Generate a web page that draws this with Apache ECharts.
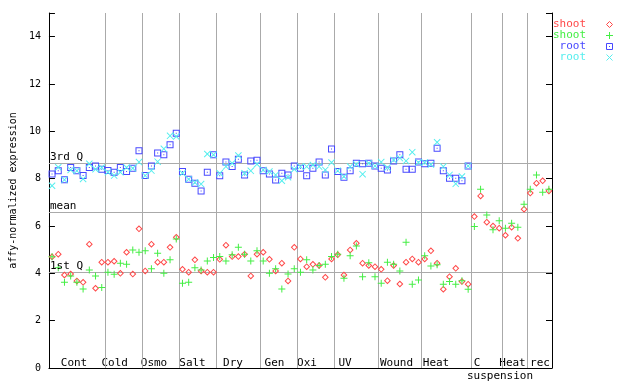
<!DOCTYPE html>
<html><head><meta charset="utf-8">
<script src="https://cdn.jsdelivr.net/npm/echarts@6/dist/echarts.min.js"></script>
<style>html,body{margin:0;padding:0;background:#fff}#c{width:640px;height:384px}</style>
</head><body><div id="c"></div>
<script>
// ---- data ----
const groupNames = ['Cont','Cold','Osmo','Salt','Dry','Gen','Oxi','UV','Wound','Heat','C','Heat','rec'];
const groupSizes = [9,6,6,6,7,6,6,7,7,8,5,4,4];
const shootRep1 = [4.70,4.81,3.93,3.97,3.68,3.62,5.23,3.37,4.47,4.47,4.51,4.00,4.89,3.97,5.88,4.10,5.23,4.47,4.47,5.10,5.52,
  4.17,4.05,4.57,4.10,4.05,4.05,4.59,5.19,4.71,4.71,4.81,3.89,4.81,4.89,4.59,4.10,4.43,3.68,5.10,4.61,
  4.28,4.38,4.33,3.83,4.61,4.78,3.93,4.99,5.27,4.43,4.33,4.28,4.17,3.69,4.33,3.55,4.47,4.61,4.47,4.61,
  4.95,4.43,3.33,3.86,4.21,3.65,3.54,6.40,7.27,6.16,6.00,5.91,5.61,5.95,5.48,6.71,7.39,7.81,7.91,7.48];
const shootRep2 = [4.70,4.24,3.62,3.89,3.62,3.34,4.14,3.89,3.40,4.05,3.96,4.43,4.38,4.99,4.89,4.95,4.19,4.85,4.00,4.57,5.45,
  3.58,3.62,4.24,4.14,4.52,4.67,4.71,4.52,4.78,5.10,4.81,4.52,4.95,4.52,4.00,4.19,3.34,3.97,4.19,4.05,
  4.57,4.14,4.33,4.38,4.71,4.81,3.79,4.74,5.16,3.86,4.45,3.86,3.58,4.47,4.38,4.10,5.31,3.54,3.72,4.74,
  4.31,4.36,3.54,3.65,3.54,3.69,3.33,5.98,7.55,6.47,5.84,6.22,5.91,6.12,5.95,6.92,7.55,8.16,7.43,7.55];
const rootRep1 = [8.20,8.33,7.95,8.47,8.33,8.13,8.47,8.54,8.40,8.34,8.27,8.47,8.30,8.44,9.18,8.13,8.54,9.08,9.01,9.43,9.92,
  8.30,7.98,7.81,7.48,8.27,9.01,8.12,8.70,8.51,8.82,8.15,8.75,8.78,8.33,8.20,7.94,8.23,8.15,8.54,8.44,
  8.12,8.44,8.70,8.16,9.25,8.30,8.06,8.33,8.65,8.63,8.65,8.54,8.44,8.37,8.75,9.01,8.40,8.40,8.70,8.63,
  8.65,9.29,8.33,8.02,8.02,7.91,8.54,null,null,null,null,null,null,null,null,null,null,null,null,null];
const rootRep2 = [7.70,8.48,7.95,8.37,8.33,7.99,8.63,8.40,8.47,8.27,8.13,8.27,8.47,8.44,8.70,8.13,8.34,8.72,9.26,9.81,9.78,
  8.23,7.98,7.84,7.77,9.04,9.01,8.23,8.51,8.65,8.98,8.23,8.33,8.61,8.37,8.30,8.16,7.91,8.06,8.40,8.51,
  8.51,8.58,8.51,8.37,8.68,8.33,8.09,8.51,8.61,8.19,8.65,8.54,8.70,8.47,8.79,8.87,8.75,9.12,8.68,8.68,
  8.60,9.54,8.51,8.16,7.78,8.09,8.54,null,null,null,null,null,null,null,null,null,null,null,null,null];
const refLines = [{name:'3rd Q', value:8.65},{name:'mean', value:6.58},{name:'1st Q', value:4.04}];
const yTicks = [0,2,4,6,8,10,12,14];

// ---- layout / style ----
const FONT = 'DejaVu Sans Mono';
const groupLabelX = [74,114.7,154,192.5,233,274.5,307,345,396.5,436,477,512.5,540];
const P_DIAMOND = 'path://M3.5,0L7,3.5L3.5,7L0,3.5Z M3.5,1.4L1.4,3.5L3.5,5.6L5.6,3.5Z';
const P_PLUS = 'path://M3,0L4,0L4,7L3,7Z M0,3L7,3L7,4L0,4Z';
const P_SQUARE = 'path://M0,0L7,0L7,7L0,7Z M1,1L1,6L6,6L6,1Z M3,3L4,3L4,4L3,4Z';
const P_X = 'path://M0,0.7L0.7,0L7,6.3L6.3,7Z M6.3,0L7,0.7L0.7,7L0,6.3Z';
const series = [
  {name:'shoot', data:shootRep1, color:'#ff4848', sym:P_DIAMOND, kind:'diamond'},
  {name:'shoot', data:shootRep2, color:'#44ee44', sym:P_PLUS, kind:'plus'},
  {name:'root', data:rootRep1, color:'#4848ff', sym:P_SQUARE, kind:'square'},
  {name:'root', data:rootRep2, color:'#55eeee', sym:P_X, kind:'x'}
];

const bounds = [];
let acc = 0;
groupSizes.forEach((s,i)=>{acc+=s; if(i<groupSizes.length-1) bounds.push(acc);});
const total = acc;

const chart = echarts.init(document.getElementById('c'), null, {renderer:'canvas'});
const sOpts = series.map((s,k)=>({
  type:'scatter', name:s.name,
  data:s.data.map((v,i)=>[i+0.5, v]),
  symbol:s.sym, symbolSize:7,
  itemStyle:{color:s.color, opacity:1},
  z: 5+k, silent:true, animation:false
}));
sOpts.unshift({
  type:'scatter', data:[], silent:true, animation:false,
  markLine:{
    silent:true, symbol:'none', animation:false,
    lineStyle:{color:'#aaaaaa', width:1, type:'solid'},
    label:{show:false},
    data: bounds.map(b=>({xAxis:b})).concat(refLines.map(r=>({yAxis:r.value})))
  }
});

chart.setOption({
  animation:false,
  backgroundColor:'#fff',
  grid:{left:44, right:88, top:13, bottom:16, containLabel:false},
  xAxis:{type:'value', min:0, max:total, axisLine:{show:true, onZero:false, lineStyle:{color:'#000', width:1}},
    axisTick:{show:false}, axisLabel:{show:false}, splitLine:{show:false}},
  yAxis:[
    {type:'value', min:0, max:15, interval:2, position:'left',
      name:'affy-normalized expression', nameLocation:'middle', nameRotate:90, nameGap:28,
      nameTextStyle:{fontFamily:FONT, fontSize:10, color:'#000'},
      axisLine:{show:true, lineStyle:{color:'#000', width:1}},
      axisTick:{show:true, inside:true, length:6, lineStyle:{color:'#000'}},
      axisLabel:{show:true, margin:8, fontFamily:FONT, fontSize:10, color:'#000',
        formatter:v=>yTicks.indexOf(v)>=0?String(v):''},
      splitLine:{show:false}},
    {type:'value', min:0, max:15, interval:2, position:'right',
      axisLine:{show:true, lineStyle:{color:'#000', width:1}},
      axisTick:{show:true, inside:true, length:6, lineStyle:{color:'#000'}},
      axisLabel:{show:false}, splitLine:{show:false}}
  ],
  series:sOpts
});

// ---- text overlays (labels, legend) ----
const graphic = [];
const font = '11px "'+FONT+'"';
refLines.forEach(r=>{
  const p = chart.convertToPixel({gridIndex:0}, [0, r.value]);
  graphic.push({type:'text', x:p[0]+1, y:p[1]-1, z:20, style:{text:r.name, fill:'#000', font:font, textAlign:'left', textVerticalAlign:'bottom'}});
});
groupNames.forEach((g,i)=>{
  graphic.push({type:'text', x:groupLabelX[i], y:363.5, style:{text:g, fill:'#000', font:font, textAlign:'center', textVerticalAlign:'middle'}});
});
graphic.push({type:'text', x:500, y:376, style:{text:'suspension', fill:'#000', font:font, textAlign:'center', textVerticalAlign:'middle'}});
const legY = [24,35,46,57];
function legendMarker(kind, cx, cy, c){
  const st = {stroke:c, fill:null, lineWidth:1};
  if(kind==='diamond') return [{type:'polygon', shape:{points:[[cx,cy-3],[cx+3,cy],[cx,cy+3],[cx-3,cy]]}, style:st}];
  if(kind==='plus') return [{type:'line', shape:{x1:cx-3.5,y1:cy,x2:cx+3.5,y2:cy}, style:st},{type:'line', shape:{x1:cx,y1:cy-3.5,x2:cx,y2:cy+3.5}, style:st}];
  if(kind==='square') return [{type:'rect', shape:{x:cx-3,y:cy-3,width:6,height:6}, style:st},{type:'rect', shape:{x:cx-0.5,y:cy-0.5,width:1,height:1}, style:{fill:c}}];
  return [{type:'line', shape:{x1:cx-3,y1:cy-3,x2:cx+3,y2:cy+3}, style:st},{type:'line', shape:{x1:cx+3,y1:cy-3,x2:cx-3,y2:cy+3}, style:st}];
}
series.forEach((s,k)=>{
  graphic.push({type:'text', x:586, y:legY[k], style:{text:s.name, fill:s.color, font:font, textAlign:'right', textVerticalAlign:'middle'}});
  legendMarker(s.kind, 609.5, legY[k]+0.5, s.color).forEach(m=>graphic.push(m));
});
chart.setOption({graphic:graphic});
</script></body></html>
